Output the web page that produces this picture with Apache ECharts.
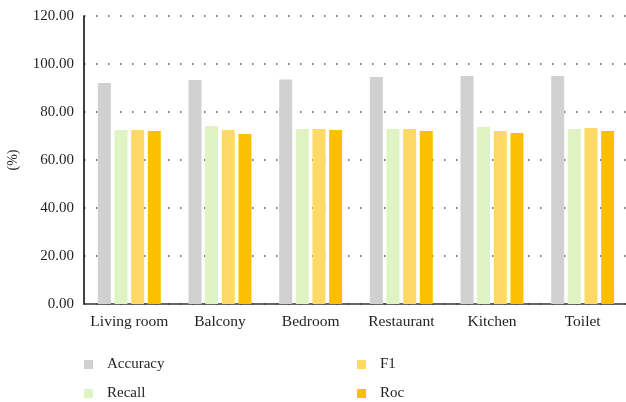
<!DOCTYPE html>
<html>
<head>
<meta charset="utf-8">
<script src="https://cdn.jsdelivr.net/npm/echarts@6/dist/echarts.min.js"></script>
<style>
  html, body { margin: 0; padding: 0; background: #fff; }
  #chart { width: 626px; height: 402px; }
</style>
</head>
<body>
<div id="chart"></div>
<script>
// Room categories along the x axis
const rooms = ['Living room', 'Balcony', 'Bedroom', 'Restaurant', 'Kitchen', 'Toilet'];

// Metric values per room (%)
const accuracy = [92.1, 93.3, 93.5, 94.6, 95.0, 95.0];
const recall   = [72.5, 74.2, 72.9, 72.9, 73.8, 72.9];
const f1       = [72.5, 72.5, 72.9, 72.9, 72.1, 73.3];
const roc      = [72.1, 70.8, 72.5, 72.1, 71.3, 72.1];

const seriesNames = ['Accuracy', 'Recall', 'F1', 'Roc'];
const seriesColors = ['#d0d1d0', '#dff3c3', '#ffd966', '#fcc000'];
const seriesData = [accuracy, recall, f1, roc];

const font = '"Liberation Serif", "DejaVu Serif", serif';
const textColor = '#231f20';

// Legend laid out as two columns of two entries
const legendSpots = [
  { name: 'Accuracy', left: 84, top: 357 },
  { name: 'Recall',   left: 84, top: 386 },
  { name: 'F1',       left: 357, top: 357 },
  { name: 'Roc',      left: 357, top: 386 }
];

const chart = echarts.init(document.getElementById('chart'), null, { renderer: 'canvas' });

chart.setOption({
  animation: false,
  backgroundColor: '#fff',
  grid: { left: 84, right: -2, top: 16, bottom: 98, containLabel: false, outerBoundsMode: 'none' },
  legend: legendSpots.map(s => ({
    left: s.left,
    top: s.top,
    padding: 0,
    data: [s.name],
    itemWidth: 9,
    itemHeight: 9,
    icon: 'rect',
    textStyle: { fontFamily: font, fontSize: 15, lineHeight: 15, color: textColor, padding: [0, 0, 0, 9] }
  })),
  xAxis: {
    type: 'category',
    data: rooms,
    axisLine: { lineStyle: { color: '#333', width: 1.5 } },
    axisTick: { show: false },
    axisLabel: { interval: 0, fontFamily: font, fontSize: 15.5, color: textColor, margin: 10 }
  },
  yAxis: {
    type: 'value',
    min: 0,
    max: 120,
    interval: 20,
    name: '(%)',
    nameLocation: 'middle',
    nameGap: 64,
    nameRotate: 90,
    nameTextStyle: { fontFamily: font, fontSize: 14, color: textColor },
    axisLine: { show: true, lineStyle: { color: '#000', width: 1.5 } },
    axisTick: { show: false },
    axisLabel: {
      fontFamily: font, fontSize: 15, color: textColor, margin: 10,
      formatter: v => v.toFixed(2)
    },
    splitLine: {
      show: true,
      lineStyle: { color: '#555', width: 1.5, type: [1.5, 10.5], dashOffset: 0 }
    }
  },
  series: seriesNames.map((name, i) => ({
    name: name,
    type: 'bar',
    data: seriesData[i],
    barWidth: 13,
    barGap: '28%',
    itemStyle: { color: seriesColors[i] }
  }))
});
</script>
</body>
</html>
